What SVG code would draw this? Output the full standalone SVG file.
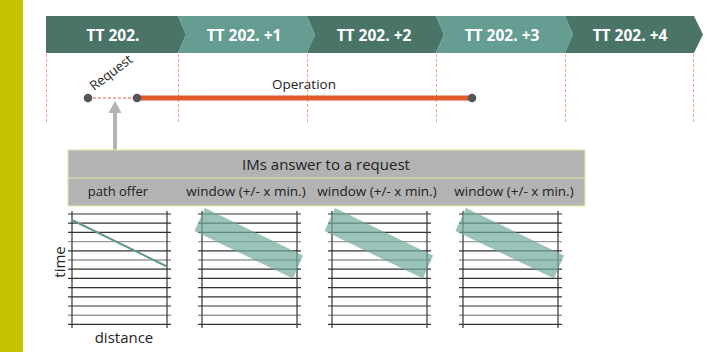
<svg xmlns="http://www.w3.org/2000/svg" width="720" height="352" viewBox="0 0 720 352">
<style>
.hd{font-family:"Open Sans","Liberation Sans",sans-serif;font-weight:bold;font-size:15.5px;fill:#fff;text-anchor:middle}
.dk{fill:#4a7468}
.lt{fill:#659d93}
.vd{stroke:#f2a08a;stroke-width:1;stroke-dasharray:3,2;fill:none}
.t{font-family:"Open Sans","Liberation Sans",sans-serif;fill:#222}
.gl{stroke:#333;stroke-width:1.2}
.gl2{stroke:#999;stroke-width:1.4}
.band{fill:#6fa99b;fill-opacity:0.7}
.dot{fill:#555}
</style>
<defs>
<g id="grid">
<line class="gl" x1="-4" y1="214" x2="99" y2="214"/>
<line class="gl" x1="-4" y1="223.2" x2="99" y2="223.2"/>
<line class="gl" x1="-4" y1="232.4" x2="99" y2="232.4"/>
<line class="gl2" x1="-4" y1="241.6" x2="99" y2="241.6"/>
<line class="gl" x1="-4" y1="250.8" x2="99" y2="250.8"/>
<line class="gl2" x1="-4" y1="260" x2="99" y2="260"/>
<line class="gl" x1="-4" y1="269.2" x2="99" y2="269.2"/>
<line class="gl" x1="-4" y1="278.4" x2="99" y2="278.4"/>
<line class="gl" x1="-4" y1="287.6" x2="99" y2="287.6"/>
<line class="gl" x1="-4" y1="296.8" x2="99" y2="296.8"/>
<line class="gl" x1="-4" y1="306" x2="99" y2="306"/>
<line class="gl2" x1="-4" y1="315.2" x2="99" y2="315.2"/>
<line class="gl" x1="-4" y1="324.4" x2="99" y2="324.4"/>
<line class="gl" x1="0" y1="211" x2="0" y2="328"/>
<line class="gl" x1="95" y1="211" x2="95" y2="328"/>
</g>
<polygon id="bandshape" class="band" points="3,208 101,255.5 91,278.5 -7.5,231"/>
</defs>

<rect x="0" y="0" width="23" height="352" fill="#c3c300"/>

<g id="timeline">
<g id="tt0"><polygon class="dk" points="46,16 178,16 186,34.5 178,53 46,53"/><text class="hd" x="113" y="40.5">TT 202.</text></g>
<g id="tt1"><polygon class="lt" points="178,16 307,16 315,34.5 307,53 178,53 186,34.5"/><text class="hd" x="244" y="40.5">TT 202. +1</text></g>
<g id="tt2"><polygon class="dk" points="307,16 436,16 444,34.5 436,53 307,53 315,34.5"/><text class="hd" x="374" y="40.5">TT 202. +2</text></g>
<g id="tt3"><polygon class="lt" points="436,16 565,16 573,34.5 565,53 436,53 444,34.5"/><text class="hd" x="502" y="40.5">TT 202. +3</text></g>
<g id="tt4"><polygon class="dk" points="565,16 694,16 703,34.5 694,53 565,53 573,34.5"/><text class="hd" x="630" y="40.5">TT 202. +4</text></g>
</g>

<g id="dividers">
<line class="vd" x1="46.5" y1="54" x2="46.5" y2="122"/>
<line class="vd" x1="178.5" y1="54" x2="178.5" y2="122"/>
<line class="vd" x1="307.5" y1="54" x2="307.5" y2="122"/>
<line class="vd" x1="436.5" y1="54" x2="436.5" y2="122"/>
<line class="vd" x1="565.5" y1="54" x2="565.5" y2="122"/>
<line class="vd" x1="693.5" y1="54" x2="693.5" y2="122"/>
</g>

<g id="connectors">
<line x1="88" y1="98" x2="137" y2="98" stroke="#e8603a" stroke-width="1" stroke-dasharray="3,2"/>
<line x1="137" y1="98" x2="472" y2="98" stroke="#e05a2b" stroke-width="5"/>
<line x1="115" y1="150" x2="115" y2="112" stroke="#b3b3b3" stroke-width="4"/>
<polygon points="108.5,113 121.5,113 115,101" fill="#b3b3b3"/>
</g>

<g id="request">
<circle class="dot" cx="88" cy="98" r="4.3"/>
<text class="t" font-size="13" transform="translate(94,91) rotate(-37)">Request</text>
</g>
<g id="operation">
<circle class="dot" cx="137" cy="98" r="4.3"/>
<circle class="dot" cx="472" cy="98" r="4.3"/>
<text class="t" font-size="13.5" x="304" y="89" text-anchor="middle">Operation</text>
</g>

<g id="table">
<rect x="68" y="150" width="517" height="56" fill="#b3b3b3" stroke="#e4e8a8" stroke-width="1"/>
<line x1="68" y1="178" x2="585" y2="178" stroke="#e4e8a8" stroke-width="1"/>
<text class="t" font-size="15" x="326" y="170" text-anchor="middle">IMs answer to a request</text>
<text class="t" font-size="13" x="118" y="196" text-anchor="middle">path offer</text>
<text class="t" font-size="13.5" x="246" y="196" text-anchor="middle">window (+/- x min.)</text>
<text class="t" font-size="13.5" x="377" y="196" text-anchor="middle">window (+/- x min.)</text>
<text class="t" font-size="13.5" x="514" y="196" text-anchor="middle">window (+/- x min.)</text>
</g>

<g id="grid1">
<use href="#grid" transform="translate(72,0)"/>
<line x1="72" y1="220" x2="168" y2="267" stroke="#5e9a8e" stroke-width="2"/>
<text class="t" font-size="15" transform="translate(65,262) rotate(-90)" text-anchor="middle">time</text>
<text class="t" font-size="15" x="124" y="343" text-anchor="middle">distance</text>
</g>
<g id="grid2">
<use href="#grid" transform="translate(202,0)"/>
<use href="#bandshape" transform="translate(202,0)"/>
</g>
<g id="grid3">
<use href="#grid" transform="translate(332,0)"/>
<use href="#bandshape" transform="translate(332,0)"/>
</g>
<g id="grid4">
<use href="#grid" transform="translate(463,0)"/>
<use href="#bandshape" transform="translate(463,0)"/>
</g>
</svg>
